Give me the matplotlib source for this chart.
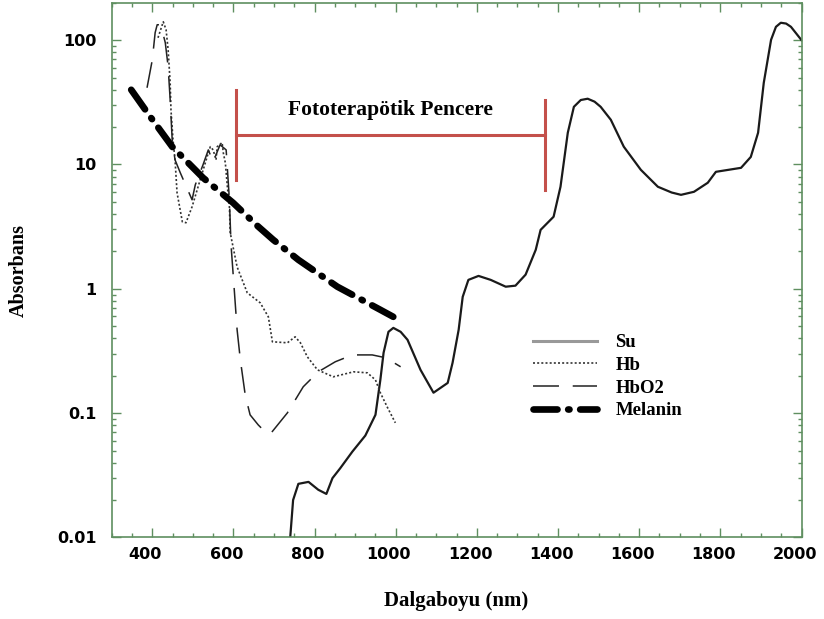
import matplotlib
matplotlib.use("Agg")
import matplotlib.pyplot as plt
from matplotlib.ticker import FixedLocator, MultipleLocator, LogLocator, NullFormatter
from matplotlib.transforms import ScaledTranslation

# Values (wavelength nm, absorbance)
su_nm = [740, 747, 760, 785, 809, 829, 844, 863, 893, 925, 950, 962, 970, 982,
         994, 1012, 1029, 1061, 1093, 1128, 1140, 1155, 1165, 1179, 1204, 1234,
         1271, 1295, 1320, 1345, 1357, 1389, 1406, 1424, 1439, 1456, 1473, 1490,
         1505, 1530, 1562, 1604, 1646, 1680, 1703, 1735, 1769, 1789, 1851, 1875,
         1893, 1907, 1925, 1937, 1949, 1962, 1974, 2000]
su_abs = [0.0101, 0.020, 0.027, 0.028, 0.0242, 0.0224, 0.030, 0.036, 0.049, 0.066,
          0.097, 0.185, 0.306, 0.451, 0.485, 0.451, 0.389, 0.223, 0.146, 0.175,
          0.254, 0.468, 0.862, 1.18, 1.27, 1.18, 1.04, 1.06, 1.30, 2.06, 2.98,
          3.80, 6.62, 18.0, 29.1, 33.0, 33.8, 32.0, 29.1, 22.9, 13.9, 9.06, 6.62,
          5.95, 5.70, 6.03, 7.13, 8.73, 9.40, 11.5, 18.0, 45.4, 100.7, 128, 138,
          136, 128, 100]

hb_nm = [414, 427, 434, 439, 444, 446, 451, 456, 461, 474, 483, 498, 518, 535,
         543, 550, 557, 560, 572, 575, 580, 585, 590, 592, 609, 634, 666, 686,
         696, 733, 752, 765, 782, 807, 846, 896, 930, 950, 962, 979, 999]
hb_abs = [104.5, 140.6, 121, 83.7, 45.4, 27.5, 15.8, 10.9, 5.92, 3.46, 3.40, 4.57,
          7.53, 11.5, 13.9, 13.1, 10.9, 13.9, 15.0, 12.4, 10.3, 6.62, 4.57, 2.82,
          1.50, 0.929, 0.771, 0.595, 0.375, 0.368, 0.411, 0.368, 0.284, 0.223,
          0.196, 0.215, 0.211, 0.185, 0.146, 0.112, 0.0836]

hbo2_nm = [387, 400, 407, 412, 419, 424, 432, 439, 444, 449, 456, 469, 498, 506,
           525, 538, 550, 567, 582, 590, 594, 602, 609, 617, 629, 641, 661, 678,
           691, 733, 772, 809, 851, 893, 942, 975, 1012]
hbo2_abs = [41.4, 69.5, 115, 133, 133, 121, 95.3, 61.1, 33.2, 15.8, 10.9, 8.57,
            5.20, 6.87, 9.95, 13.1, 10.5, 14.4, 13.1, 5.20, 2.26, 0.982, 0.468,
            0.268, 0.140, 0.0969, 0.0805, 0.0707, 0.0681, 0.1006, 0.163, 0.215,
            0.259, 0.294, 0.294, 0.279, 0.236]

melanin_nm = [348, 395, 449, 525, 599, 659, 698, 760, 856, 962, 994]
melanin_abs = [39.9, 24.2, 13.9, 7.82, 4.92, 3.21, 2.48, 1.71, 1.04, 0.678, 0.595]

# Phototherapeutic window bracket
window_nm = [607, 1369]
window_left_span = [7.5, 39.4]
window_right_span = [6.2, 33.2]
window_bar_level = 17.3
window_text = "Fototerapötik Pencere"

series_labels = ["Su", "Hb", "HbO2", "Melanin"]
ytick_vals = [0.01, 0.1, 1, 10, 100]
ytick_labels = ["0.01", "0.1", "1", "10", "100"]
xtick_vals = list(range(400, 2001, 200))

FRAME = "#5f8f60"
RED = "#c4504b"
SERIF = ["Liberation Serif", "DejaVu Serif"]

fig = plt.figure(figsize=(8.24, 6.19), dpi=100)
ax = fig.add_axes([0.1356, 0.1317, 0.8371, 0.8639])
ax.set_yscale("log")

l_su, = ax.plot(su_nm, su_abs, color="#1a1a1a", lw=1.6)
l_hb, = ax.plot(hb_nm, hb_abs, color="#333333", lw=1.2, linestyle=(0, (1.2, 1.3)))
l_hbo2, = ax.plot(hbo2_nm, hbo2_abs, color="#222222", lw=1.1, linestyle=(0, (17, 9)))
l_mel, = ax.plot(melanin_nm, melanin_abs, color="black", lw=4.8,
                 linestyle=(0, (3.6, 1.6, 0.2, 1.6)), dash_capstyle="round")

# bracket
ax.plot([window_nm[0], window_nm[0]], window_left_span, color=RED, lw=2.2)
ax.plot([window_nm[1], window_nm[1]], window_right_span, color=RED, lw=2.2)
ax.plot(window_nm, [window_bar_level, window_bar_level], color=RED, lw=2.2)
ax.text(sum(window_nm) / 2, 27.5, window_text, ha="center", va="center",
        fontsize=15.5, fontweight="bold", family=SERIF)

ax.set_xlim(300, 2000)
ax.set_ylim(0.01, 200)

ax.xaxis.set_major_locator(FixedLocator(xtick_vals))
ax.xaxis.set_minor_locator(MultipleLocator(50))
ax.yaxis.set_major_locator(FixedLocator(ytick_vals))
ax.yaxis.set_minor_locator(LogLocator(base=10, subs=range(2, 10), numticks=20))
ax.yaxis.set_minor_formatter(NullFormatter())
ax.set_yticklabels(ytick_labels)
ax.set_xticklabels([str(v) for v in xtick_vals])

ax.tick_params(which="both", direction="in", top=True, right=True, color=FRAME,
               width=1.0)
ax.tick_params(which="major", length=6.5)
ax.tick_params(which="minor", length=3.2)
ax.tick_params(axis="y", which="major", pad=11)
ax.tick_params(axis="x", which="major", pad=7)
for side in ax.spines.values():
    side.set_color(FRAME)
    side.set_linewidth(1.2)

for lab in ax.get_xticklabels() + ax.get_yticklabels():
    lab.set_fontweight("bold")
    lab.set_fontsize(11.5)
    lab.set_family("DejaVu Sans")
for lab in ax.get_xticklabels():
    lab.set_transform(lab.get_transform() + ScaledTranslation(-5 / 72, 0, fig.dpi_scale_trans))

ax.set_xlabel("Dalgaboyu (nm)", fontsize=15, fontweight="bold", family=SERIF, labelpad=21)
ax.set_ylabel("Absorbans", fontsize=14.5, fontweight="bold", family=SERIF, labelpad=20)

leg = ax.legend([l_su, l_hb, l_hbo2, l_mel], series_labels, frameon=False,
                loc="upper left", bbox_to_anchor=(533 / 824, 1 - 334 / 619),
                bbox_transform=fig.transFigure, borderpad=0, borderaxespad=0,
                handlelength=3.4, handletextpad=1.0, labelspacing=0.3,
                prop={"family": SERIF, "weight": "bold", "size": 13.5})
leg.get_lines()[0].set_color("#999999")
leg.get_lines()[0].set_linewidth(2.2)

fig.savefig("out.png", dpi=100)
